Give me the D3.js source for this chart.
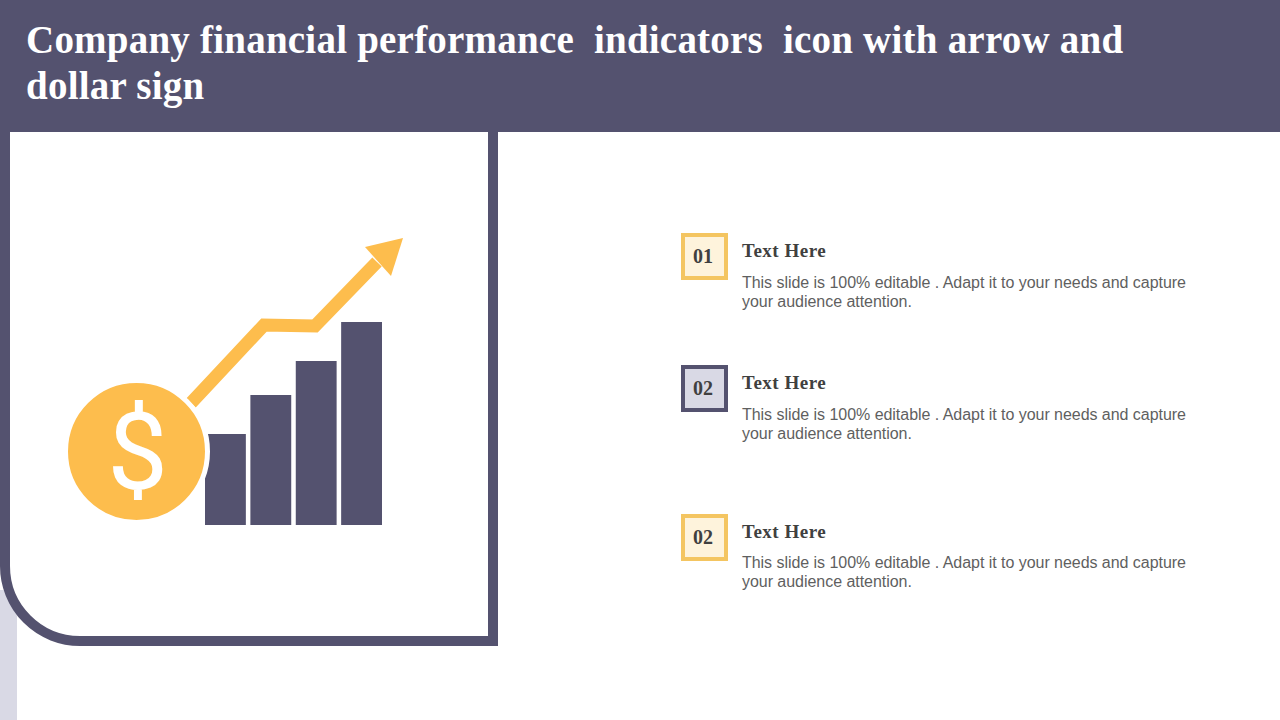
<!DOCTYPE html>
<html>
<head>
<meta charset="utf-8">
<title>Company financial performance indicators</title>
<script src="https://cdn.jsdelivr.net/npm/d3@7"></script>
<style>
    html, body { margin: 0; padding: 0; background: #fff; overflow: hidden; }
    text { white-space: pre; }
    .title { font: bold 39px "Liberation Serif", serif; fill: #fff; letter-spacing: 0.22px; }
    .num { font: bold 20px "Liberation Serif", serif; fill: #404040; text-anchor: middle; }
    .head { font: bold 19px "Liberation Serif", serif; fill: #404040; letter-spacing: 0.5px; }
    .body { font: 16px "Liberation Sans", sans-serif; fill: #5f5f5f; letter-spacing: -0.04px; }
</style>
</head>
<body>
<script>
    var titleLines = ["Company financial performance  indicators  icon with arrow and", "dollar sign"];

    // bars of the icon
    var barNames = ["a", "b", "c", "d"];
    var barValues = [91, 130, 164, 203];

    // arrow, same units as the bars (run from its start, height above baseline)
    var arrowRun = [0, 73, 124, 186];
    var arrowRise = [122, 200, 199, 263];
    var headRun = [174, 212, 200];
    var headRise = [278, 287, 249];

    var itemNumbers = ["01", "02", "02"];
    var itemHeads = ["Text Here", "Text Here", "Text Here"];
    var itemBody1 = "This slide is 100% editable . Adapt it to your needs and capture";
    var itemBody2 = "your audience attention.";

    var purple = "#54526f", lilac = "#d9d9e5", amber = "#fdbd4d", boxAmber = "#f4c561", cream = "#fef3dc";
    var itemStroke = [boxAmber, purple, boxAmber];
    var itemFill = [cream, lilac, cream];
    var itemTop = [235, 367, 516];
    var bodyOffset = [53, 53, 52];

    var svg = d3.select("body").append("svg")
        .attr("width", 1280)
        .attr("height", 720)
        .style("display", "block");

    // lilac strip behind the panel corner
    svg.append("rect").attr("x", 0).attr("y", 590).attr("width", 17).attr("height", 130).attr("fill", lilac);

    // panel: only left, bottom and right borders, rounded bottom left
    svg.append("path")
        .attr("d", "M5,100V566A75,75 0 0 0 80,641H493V100")
        .attr("fill", "#fff")
        .attr("stroke", purple)
        .attr("stroke-width", 10);

    // header band
    svg.append("rect").attr("width", 1280).attr("height", 132).attr("fill", purple);
    svg.selectAll(".title")
        .data(titleLines)
        .enter()
        .append("text")
        .attr("class", "title")
        .attr("x", 26)
        .attr("y", function (d, i) { return 53 + i * 46; })
        .text(function (d) { return d; });

    // bars
    var xBar = d3.scaleBand().domain(barNames).range([205, 382]).paddingInner(0.1);
    var yBar = d3.scaleLinear().domain([0, 203]).range([525, 322]);
    svg.selectAll(".bar")
        .data(barValues)
        .enter()
        .append("rect")
        .attr("class", "bar")
        .attr("x", function (d, i) { return xBar(barNames[i]); })
        .attr("y", function (d) { return yBar(d); })
        .attr("width", xBar.bandwidth())
        .attr("height", function (d) { return yBar(0) - yBar(d); })
        .attr("fill", purple);

    // arrow
    var xArrow = d3.scaleLinear().domain([0, 212]).range([191, 403]);
    var line = d3.line()
        .x(function (d) { return xArrow(d[0]); })
        .y(function (d) { return yBar(d[1]); });
    svg.append("path")
        .attr("d", line(d3.zip(arrowRun, arrowRise)))
        .attr("fill", "none")
        .attr("stroke", amber)
        .attr("stroke-width", 13)
        .attr("stroke-linejoin", "miter");
    svg.append("path")
        .attr("d", line(d3.zip(headRun, headRise)) + "Z")
        .attr("fill", amber);

    // coin on top of the first bar, white ring cuts into the bar
    svg.append("circle")
        .attr("cx", 136.5)
        .attr("cy", 451.5)
        .attr("r", 71)
        .attr("fill", amber)
        .attr("stroke", "#fff")
        .attr("stroke-width", 5);
    svg.append("text")
        .attr("x", 137.5)
        .attr("y", 489)
        .attr("text-anchor", "middle")
        .attr("font-family", "Roboto, sans-serif")
        .attr("font-weight", 400)
        .attr("font-size", 108)
        .attr("fill", "#fff")
        .text("$");

    // the three text items
    var item = svg.selectAll(".item")
        .data(itemNumbers)
        .enter()
        .append("g")
        .attr("class", "item")
        .attr("transform", function (d, i) { return "translate(683," + itemTop[i] + ")"; });
    item.append("rect")
        .attr("width", 43)
        .attr("height", 43)
        .attr("fill", function (d, i) { return itemFill[i]; })
        .attr("stroke", function (d, i) { return itemStroke[i]; })
        .attr("stroke-width", 4);
    item.append("text")
        .attr("class", "num")
        .attr("x", 20)
        .attr("y", 28)
        .text(function (d) { return d; });
    item.append("text")
        .attr("class", "head")
        .attr("x", 59)
        .attr("y", 22)
        .text(function (d, i) { return itemHeads[i]; });
    item.append("text")
        .attr("class", "body")
        .attr("x", 59)
        .attr("y", function (d, i) { return bodyOffset[i]; })
        .text(itemBody1);
    item.append("text")
        .attr("class", "body")
        .attr("x", 59)
        .attr("y", function (d, i) { return bodyOffset[i] + 19; })
        .text(itemBody2);
</script>
</body>
</html>
